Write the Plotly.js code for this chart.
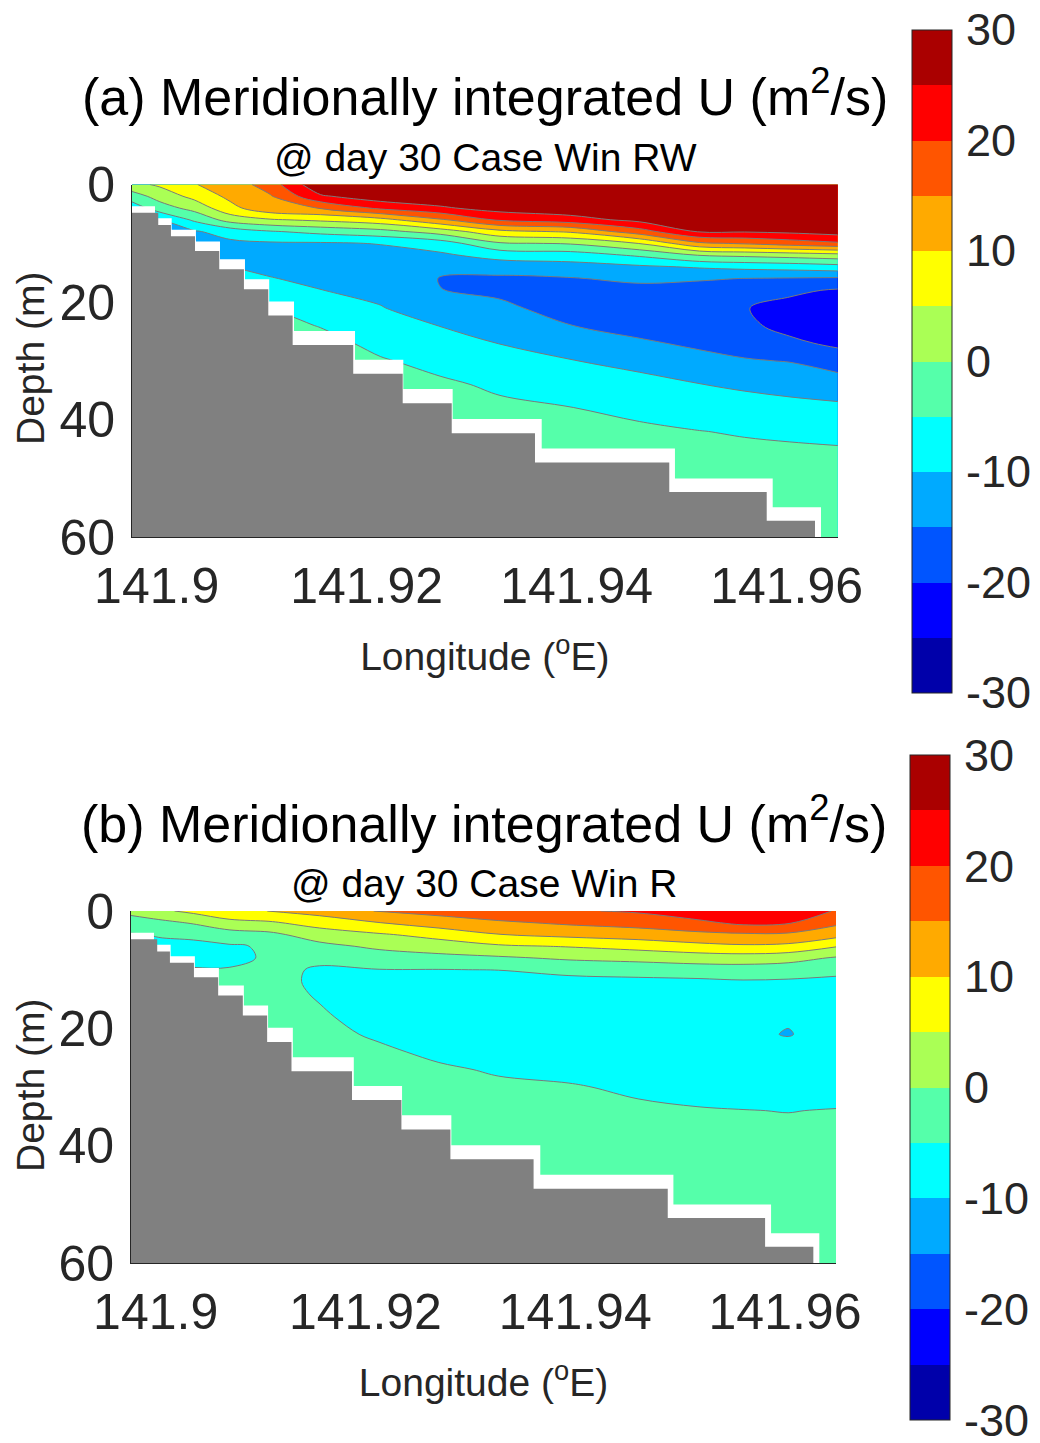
<!DOCTYPE html>
<html>
<head>
<meta charset="utf-8">
<script src="https://cdn.plot.ly/plotly-3.0.1.min.js"></script>
<style>
  html, body { margin: 0; padding: 0; background: #ffffff; }
  #chart { width: 1040px; height: 1443px; }
</style>
</head>
<body>
<div id="chart"></div>
<script>
// Section grid: longitude (deg E) columns and depth (m) rows
const lon = [141.8976, 141.9003, 141.9036, 141.9070, 141.9108, 141.9156, 141.9213, 141.9270,
             141.9327, 141.9394, 141.9460, 141.9517, 141.9560, 141.9603, 141.9649];
const depth = [0, 2, 4, 6, 8, 10, 12, 14, 16, 18, 21, 24, 27, 30, 34, 38, 42, 46, 50, 55, 60];

// Meridionally integrated U (m^2/s), one depth profile per longitude column
// (a) day 30, Case Win RW
const uWinRW = [
  [3.5, -2.5, -8, -10.5, -11, -10.5, -10, -9.5, -8.5, -7.5, -6, -4.5, -3.5, -3, -2.8, -2.6, -2.5, -2.4, -2.3, -2.2, -2.2],
  [5.8, 2, -2.3, -10, -11, -10.5, -10, -9.5, -8.5, -7.5, -6, -4.5, -3.5, -3, -2.8, -2.6, -2.5, -2.4, -2.3, -2.2, -2.2],
  [9.8, 6.5, 1.8, -4.1, -10.5, -11, -10.5, -9.5, -8, -6.5, -5, -3.5, -3, -2.8, -2.6, -2.5, -2.4, -2.3, -2.3, -2.2, -2.2],
  [12, 11.2, 8.5, 2.1, -8, -11, -11, -10, -8.5, -7, -5.2, -3.5, -3, -2.8, -2.6, -2.5, -2.4, -2.3, -2.3, -2.2, -2.2],
  [17.5, 14.5, 13.6, 4.5, -5.4, -10.6, -11.5, -11, -9.8, -8, -5.2, -3.5, -3, -2.8, -2.6, -2.5, -2.4, -2.3, -2.3, -2.2, -2.2],
  [29.2, 24.3, 15.2, 6, -3.6, -10.5, -11.8, -11.8, -11, -9.9, -7.5, -5.2, -3.5, -3, -2.8, -2.6, -2.5, -2.4, -2.3, -2.2, -2.2],
  [29.5, 28, 21.1, 8.3, -1.7, -9.8, -11.5, -12.5, -12.3, -11.5, -9.7, -7.9, -6.2, -4.6, -3.8, -3.2, -2.9, -2.7, -2.5, -2.3, -2.2],
  [29.6, 28.6, 24.3, 14.3, 2.3, -7.5, -10.8, -12.8, -15.2, -14.9, -13, -10.1, -8.2, -6.3, -4.3, -3.5, -3.0, -2.8, -2.6, -2.4, -2.2],
  [29.7, 29.2, 27, 20.9, 8.6, -0.5, -8.1, -12.7, -15.9, -16.0, -14, -12, -10.1, -8.2, -5.7, -4.2, -3.5, -3.0, -2.8, -2.5, -2.2],
  [29.7, 29.4, 28.5, 22.9, 10.7, 0.5, -7.3, -12, -15.3, -17, -17, -14.9, -12.3, -9.8, -7.3, -4.9, -3.8, -3.2, -2.8, -2.5, -2.2],
  [29.8, 29.5, 28.8, 26.5, 17.9, 5.2, -4.2, -10.8, -14.0, -16.5, -18, -17, -14.2, -11.4, -8.5, -6.1, -4.2, -3.4, -3.0, -2.6, -2.2],
  [29.8, 29.6, 29.2, 28, 25.5, 14.2, 0.3, -9.5, -14.5, -17, -18.5, -18, -16, -13.3, -9.9, -7.4, -4.9, -3.6, -3.0, -2.6, -2.2],
  [29.8, 29.6, 29.3, 28.3, 25.4, 15.7, 1.25, -8.6, -15.1, -18.5, -19.8, -19, -17, -14.6, -10.8, -8.0, -5.4, -3.8, -3.0, -2.6, -2.2],
  [29.8, 29.7, 29.4, 28.5, 26.1, 17.5, 2.2, -8, -15.4, -19.1, -21.5, -21.5, -19.0, -15.2, -11.7, -8.5, -5.8, -4.0, -3.0, -2.5, -2.2],
  [29.8, 29.7, 29.5, 28.8, 27.3, 19.3, 3.3, -6.9, -15.75, -20.5, -22.5, -23, -21, -17.3, -12.7, -9.0, -6.2, -4.2, -3.2, -2.5, -2.2]
];

// (b) day 30, Case Win R
const uWinR = [
  [1.5, -2.5, -5.3, -5.5, -5.2, -4.5, -4, -3.8, -3.5, -3.3, -3.2, -3, -3, -2.9, -2.8, -2.7, -2.6, -2.5, -2.5, -2.4, -2.3],
  [4, -1.5, -4.8, -5.6, -5.5, -4.5, -4, -3.8, -3.5, -3.3, -3.2, -3, -3, -2.9, -2.8, -2.7, -2.6, -2.5, -2.5, -2.4, -2.3],
  [6.2, 0.5, -4.3, -5.8, -5.8, -4.8, -4.5, -4, -3.8, -3.5, -3.3, -3, -3, -2.9, -2.8, -2.7, -2.6, -2.5, -2.5, -2.4, -2.3],
  [7.8, 3.8, -2.5, -5.5, -5.8, -4.8, -4.3, -4, -3.8, -3.5, -3.3, -3, -3, -2.9, -2.8, -2.7, -2.6, -2.5, -2.5, -2.4, -2.3],
  [10.1, 4.3, -1.2, -4.5, -4.6, -4.0, -3.9, -3.9, -3.8, -3.7, -3.5, -3.2, -3, -2.9, -2.8, -2.7, -2.6, -2.5, -2.5, -2.4, -2.3],
  [12, 7, 2.5, -1.4, -4.2, -5.4, -5.6, -5.3, -4.95, -4.6, -4.2, -3.8, -3.5, -3.2, -3, -2.8, -2.7, -2.6, -2.5, -2.4, -2.3],
  [15.3, 9.9, 4.5, 1, -2.5, -5.1, -6.5, -7, -6.8, -6.2, -5.4, -4.5, -4, -3.6, -3.3, -3, -2.8, -2.7, -2.6, -2.5, -2.4],
  [16.5, 12.8, 6.6, 2.7, -1.6, -5.1, -7, -7.8, -7.8, -7.4, -6.6, -5.6, -4.6, -4, -3.5, -3.2, -3, -2.8, -2.6, -2.5, -2.4],
  [18.5, 14.2, 9.9, 4.3, -0.7, -4.9, -7.3, -8.2, -8.3, -8, -7.3, -6.5, -5.3, -4.5, -3.9, -3.5, -3.2, -3, -2.8, -2.6, -2.5],
  [19.5, 15.8, 11.4, 5.3, 0.7, -3.5, -6.5, -8, -8.5, -8.4, -8, -7.2, -6, -4.7, -4, -3.6, -3.3, -3, -2.8, -2.6, -2.5],
  [20.6, 17, 12.5, 6.8, 1.4, -2.8, -6.2, -8.2, -8.8, -8.9, -8.6, -7.8, -6.9, -5.6, -4.4, -3.8, -3.4, -3.1, -2.9, -2.7, -2.5],
  [23.5, 18.8, 13.8, 8.5, 2.3, -2.3, -5.9, -8.4, -9.2, -9.4, -9.2, -8.6, -7.6, -6.5, -4.7, -3.9, -3.5, -3.2, -3, -2.7, -2.5],
  [24.5, 21.2, 14.3, 9.3, 2.6, -2.2, -5.4, -8.3, -9.3, -9.6, -9.6, -9, -8, -7, -4.9, -4, -3.6, -3.3, -3, -2.7, -2.5],
  [24.2, 20.5, 14.2, 8.8, 1.8, -2.6, -5.6, -8.4, -9.4, -9.8, -10.1, -9.3, -8.3, -7.2, -5.1, -4, -3.6, -3.3, -3, -2.7, -2.5],
  [19.5, 16, 11.8, 5.3, -0.5, -3.5, -6.2, -7.8, -8.6, -9, -9.2, -8.8, -8, -7, -4.8, -3.9, -3.5, -3.2, -3, -2.7, -2.5]
];

// Model bathymetry: step edges (deg E) and bottom depth (m) of each land column
const landEdges = [141.89765, 141.90015, 141.90136, 141.90365, 141.90596, 141.90831, 141.91063, 141.91295,
                   141.91872, 141.92343, 141.92810, 141.93603, 141.94882, 141.95810, 141.96270];
const landTop = [4.8, 6.9, 8.8, 11.3, 14.4, 17.8, 22.3, 27.3, 32.2, 37.2, 42.3, 47.3, 52.3, 57.2];

// Deepest resolved level of each wet column (below it no data is plotted)
const wetEdges = [141.89765, 141.89984, 141.90143, 141.90374, 141.90603, 141.90841, 141.91072, 141.91308,
                  141.91889, 141.92349, 141.92819, 141.93667, 141.94936, 141.95867, 141.96327];
const wetBottom = [3.7, 5.75, 7.7, 9.7, 12.7, 16.1, 19.9, 24.9, 29.8, 34.8, 39.9, 44.9, 50.0, 54.9];

// Axis ticks
const lonTicks = [141.9, 141.92, 141.94, 141.96];
const lonTickText = ['141.9', '141.92', '141.94', '141.96'];
const depthTicks = [0, 20, 40, 60];
const cbTicks = [-30, -20, -10, 0, 10, 20, 30];
const cbTickText = ['-30', '-20', '-10', '0', '10', '20', '30'];

// 12-band jet palette for -30..30 in steps of 5
const jet12 = ['#0000AA', '#0000FF', '#0055FF', '#00AAFF', '#00FFFF', '#55FFAA',
               '#AAFF55', '#FFFF00', '#FFAA00', '#FF5500', '#FF0000', '#AA0000'];
const bandScale = [];
jet12.forEach(function (c, i) {
  bandScale.push([i / jet12.length, c]);
  bandScale.push([(i + 1) / jet12.length, c]);
});

const lonRange = [141.89765, 141.96486];
const depthRange = [60, 0];
const FONT = 'Liberation Sans, Arial, Helvetica, sans-serif';
const INK = '#262626';

function staircase(edges, depths, floor) {
  const xs = [], ys = [];
  for (let i = 0; i < depths.length; i++) {
    xs.push(edges[i], edges[i + 1]);
    ys.push(depths[i], depths[i]);
  }
  xs.push(edges[edges.length - 1], edges[0]);
  ys.push(floor, floor);
  return { x: xs, y: ys };
}

function colorbarAt(xFrac, topFrac, lenPx) {
  return {
    x: xFrac, xanchor: 'left', y: topFrac, yanchor: 'top',
    len: lenPx, lenmode: 'pixels', thickness: 40, thicknessmode: 'pixels',
    xpad: 0, ypad: 0, outlinewidth: 1, outlinecolor: INK, borderwidth: 0,
    tickmode: 'array', tickvals: cbTicks, ticktext: cbTickText,
    ticks: 'outside', ticklen: 5, tickwidth: 1, tickcolor: 'rgba(0,0,0,0)',
    ticklabeloverflow: 'allow',
    tickfont: { family: FONT, size: 45, color: INK }
  };
}

function panel(z, xa, ya, cb) {
  const wet = staircase(wetEdges, wetBottom, depth[depth.length - 1]);
  const land = staircase(landEdges, landTop, depth[depth.length - 1]);
  return [
    {
      type: 'contour', x: lon, y: depth, z: z, transpose: true, xaxis: xa, yaxis: ya,
      autocontour: false, zauto: false, zmin: -30, zmax: 30,
      contours: { start: -30, end: 30, size: 5, coloring: 'fill', showlines: false },
      colorscale: bandScale, line: { smoothing: 1, width: 0 },
      colorbar: cb, hoverinfo: 'skip'
    },
    {
      type: 'contour', x: lon, y: depth, z: z, transpose: true, xaxis: xa, yaxis: ya,
      autocontour: false,
      contours: { start: -30, end: 30, size: 5, coloring: 'none', showlines: true },
      line: { color: '#7a7a7a', width: 1, smoothing: 1 },
      showscale: false, hoverinfo: 'skip'
    },
    {
      type: 'scatter', mode: 'lines', x: wet.x, y: wet.y, xaxis: xa, yaxis: ya,
      fill: 'toself', fillcolor: '#ffffff', line: { width: 0 }, hoverinfo: 'skip', showlegend: false
    },
    {
      type: 'scatter', mode: 'lines', x: land.x, y: land.y, xaxis: xa, yaxis: ya,
      fill: 'toself', fillcolor: '#808080', line: { width: 0 }, hoverinfo: 'skip', showlegend: false
    }
  ];
}

function lonAxis(domain, anchor) {
  return {
    domain: domain, anchor: anchor, range: lonRange,
    tickmode: 'array', tickvals: lonTicks, ticktext: lonTickText,
    ticks: 'outside', ticklen: 5, tickcolor: 'rgba(0,0,0,0)',
    showline: true, linecolor: INK, linewidth: 1, mirror: false,
    showgrid: false, zeroline: false,
    tickfont: { family: FONT, size: 50, color: INK },
    title: { text: 'Longitude (<sup>o</sup>E)', font: { family: FONT, size: 39, color: INK }, standoff: 29 }
  };
}

function depthAxis(domain, anchor) {
  return {
    domain: domain, anchor: anchor, range: depthRange,
    tickmode: 'array', tickvals: depthTicks,
    ticks: 'outside', ticklen: 6, tickcolor: 'rgba(0,0,0,0)',
    showline: true, linecolor: INK, linewidth: 1, mirror: false,
    showgrid: false, zeroline: false,
    tickfont: { family: FONT, size: 50, color: INK }
  };
}

const W = 1040, H = 1443;
const traces = [].concat(
  panel(uWinRW, 'x', 'y', colorbarAt(912 / W, 1 - 29.5 / H, 663)),
  panel(uWinR, 'x2', 'y2', colorbarAt(910 / W, 1 - 755 / H, 665))
);

function label(text, xPx, yPx, size, color, angle) {
  return {
    text: text, xref: 'paper', yref: 'paper', x: xPx / W, y: 1 - yPx / H,
    xanchor: 'center', yanchor: 'middle', showarrow: false, textangle: angle || 0,
    font: { family: FONT, size: size, color: color }
  };
}

const layout = {
  width: W, height: H,
  margin: { l: 0, r: 0, t: 0, b: 0 },
  paper_bgcolor: '#ffffff', plot_bgcolor: '#ffffff',
  showlegend: false,
  font: { family: FONT, color: INK },
  xaxis: lonAxis([132 / W, 837.7 / W], 'y'),
  yaxis: depthAxis([1 - 537.3 / H, 1 - 184.5 / H], 'x'),
  xaxis2: lonAxis([131 / W, 836 / W], 'y2'),
  yaxis2: depthAxis([1 - 1263.3 / H, 1 - 911 / H], 'x2'),
  annotations: [
    label('(a) Meridionally integrated U (m<sup>2</sup>/s)', 484.9, 93, 52, '#000000'),
    label('@ day 30 Case Win RW', 485, 157, 39, '#000000'),
    label('Depth (m)', 30, 359, 39, INK, -90),
    label('(b) Meridionally integrated U (m<sup>2</sup>/s)', 483.5, 819.5, 52, '#000000'),
    label('@ day 30 Case Win R', 484, 883.5, 39, '#000000'),
    label('Depth (m)', 30, 1086, 39, INK, -90)
  ]
};

Plotly.newPlot('chart', traces, layout, { displayModeBar: false, staticPlot: true });
</script>
</body>
</html>
